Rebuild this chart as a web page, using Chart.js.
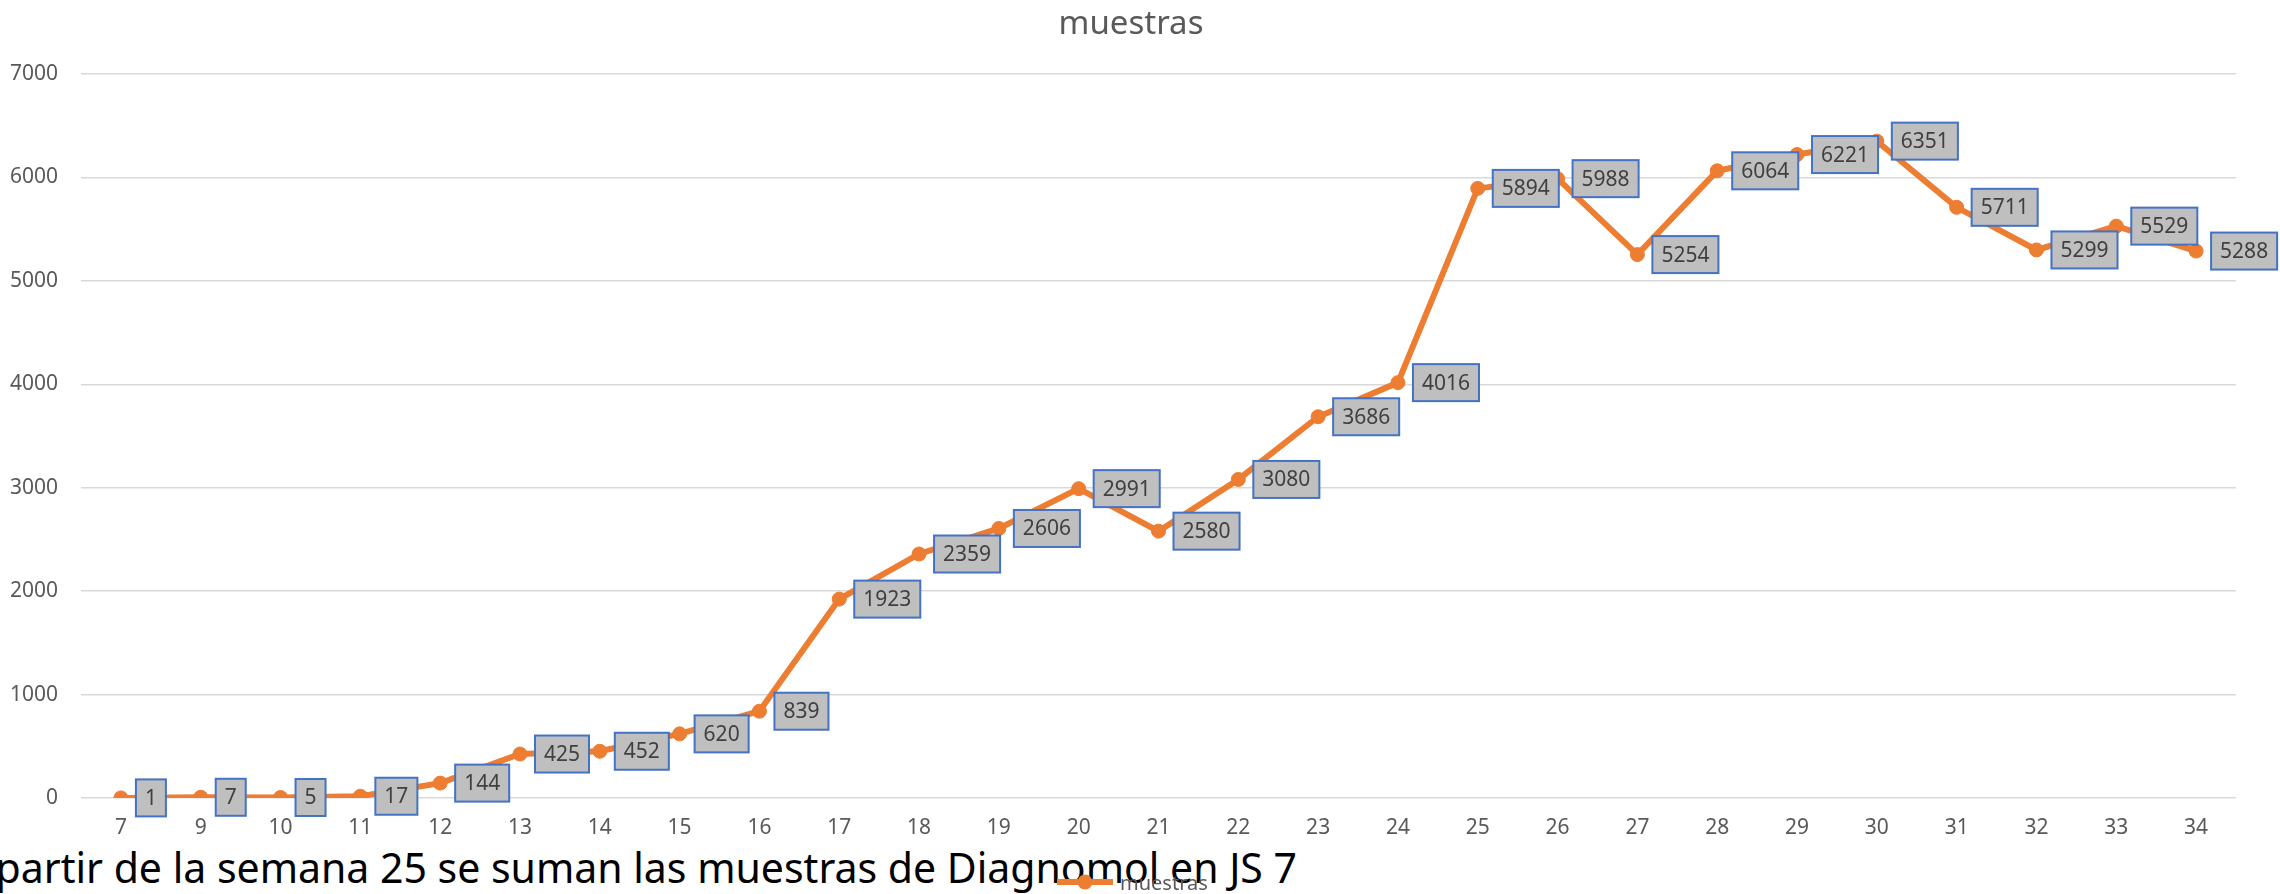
<!DOCTYPE html>
<html>
<head>
<meta charset="utf-8">
<script src="https://cdn.jsdelivr.net/npm/chart.js@4"></script>
<style>
  body { margin: 0; background: #fff; overflow: hidden; }
  #wrap { position: relative; width: 2280px; height: 894px; }
  #note {
    position: absolute; right: 983px; top: 847px; z-index: 0;
    font-family: 'Noto Sans', sans-serif; font-size: 41px; line-height: 41px;
    color: #000; white-space: nowrap;
  }
  #chart { position: absolute; left: 0; top: 0; z-index: 1; }
</style>
</head>
<body>
<div id="wrap">
  <div id="note">A partir de la semana 25 se suman las muestras de Diagnomol en JS 7</div>
  <canvas id="chart" width="2280" height="894"></canvas>
</div>
<script>
// Data
const weeks = ['7', '9', '10', '11', '12', '13', '14', '15', '16', '17', '18', '19', '20',
               '21', '22', '23', '24', '25', '26', '27', '28', '29', '30', '31', '32', '33', '34'];
const muestras = [1, 7, 5, 17, 144, 425, 452, 620, 839, 1923, 2359, 2606, 2991,
                  2580, 3080, 3686, 4016, 5894, 5988, 5254, 6064, 6221, 6351, 5711, 5299, 5529, 5288];
const yMin = 0;
const yMax = 7000;
const yStep = 1000;

const ORANGE = '#ed7d31';
const GREY_TEXT = '#595959';
const FONT = "'Noto Sans', sans-serif";

// Excel-style data labels: grey box with blue border, right of each point
const boxLabels = {
    id: 'boxLabels',
    afterDatasetsDraw(chart) {
        const ctx = chart.ctx;
        const meta = chart.getDatasetMeta(0);
        ctx.save();
        ctx.font = '21px ' + FONT;
        ctx.textAlign = 'center';
        ctx.textBaseline = 'middle';
        meta.data.forEach((pt, i) => {
            const txt = String(chart.data.datasets[0].data[i]);
            const w = ctx.measureText(txt).width + 18;
            const h = 37;
            const x = pt.x + 15;
            const y = pt.y - h / 2;
            ctx.fillStyle = '#bfbfbf';
            ctx.fillRect(x, y, w, h);
            ctx.lineWidth = 2;
            ctx.strokeStyle = '#4472c4';
            ctx.strokeRect(x, y, w, h);
            ctx.fillStyle = '#404040';
            ctx.fillText(txt, x + w / 2, pt.y + 1);
        });
        ctx.restore();
    }
};

// Title at top and legend at bottom, placed like the original
const titleLegend = {
    id: 'titleLegend',
    afterDraw(chart) {
        const ctx = chart.ctx;
        ctx.save();
        ctx.fillStyle = GREY_TEXT;
        ctx.font = '33px ' + FONT;
        ctx.textAlign = 'center';
        ctx.textBaseline = 'alphabetic';
        ctx.fillText(chart.data.datasets[0].label, 1131, 34);

        // legend
        ctx.strokeStyle = ORANGE;
        ctx.lineWidth = 6;
        ctx.beginPath();
        ctx.moveTo(1057, 882);
        ctx.lineTo(1113, 882);
        ctx.stroke();
        ctx.fillStyle = ORANGE;
        ctx.beginPath();
        ctx.arc(1085, 882, 7.5, 0, Math.PI * 2);
        ctx.fill();
        ctx.fillStyle = GREY_TEXT;
        ctx.font = '20px ' + FONT;
        ctx.textAlign = 'left';
        ctx.fillText(chart.data.datasets[0].label, 1120, 890);
        ctx.restore();
    }
};

const ctx = document.getElementById('chart').getContext('2d');
const chart = new Chart(ctx, {
    type: 'line',
    data: {
        labels: weeks,
        datasets: [{
            label: 'muestras',
            data: muestras,
            borderColor: ORANGE,
            backgroundColor: ORANGE,
            borderWidth: 6,
            pointRadius: 7,
            pointBorderWidth: 1,
            pointBackgroundColor: ORANGE,
            pointBorderColor: ORANGE,
            tension: 0
        }]
    },
    options: {
        responsive: false,
        animation: false,
        devicePixelRatio: 1,
        layout: {
            padding: { top: 74, right: 44, bottom: 36, left: 0 }
        },
        plugins: {
            legend: { display: false },
            title: { display: false },
            tooltip: { enabled: false }
        },
        scales: {
            x: {
                offset: true,
                grid: { display: false },
                border: { display: false },
                ticks: {
                    color: GREY_TEXT,
                    font: { family: FONT, size: 21 },
                    padding: 9,
                    maxRotation: 0,
                    autoSkip: false
                },
                afterFit(scale) { scale.height = 60; }
            },
            y: {
                min: yMin,
                max: yMax,
                grid: { color: '#d9d9d9', lineWidth: 1.5, drawTicks: false },
                border: { display: false },
                ticks: {
                    stepSize: yStep,
                    color: GREY_TEXT,
                    font: { family: FONT, size: 21 },
                    padding: 23,
                    callback: (v) => String(v)
                },
                afterFit(scale) { scale.width = 81; }
            }
        }
    },
    plugins: [boxLabels, titleLegend]
});
</script>
</body>
</html>
